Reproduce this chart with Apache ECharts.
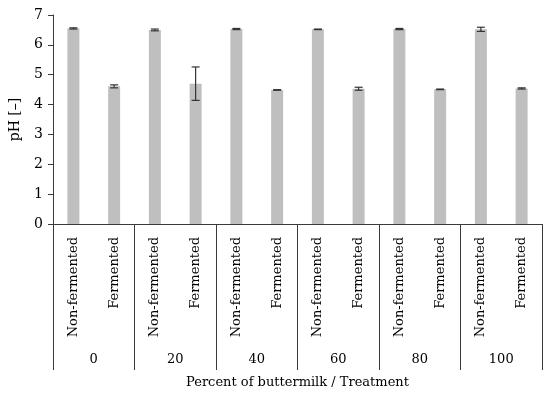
<!DOCTYPE html>
<html><head><meta charset="utf-8">
<script src="https://cdn.jsdelivr.net/npm/echarts@6/dist/echarts.min.js"></script>
<style>html,body{margin:0;padding:0;background:#fff}#c{width:550px;height:396px}</style>
</head><body><div id="c"></div>
<script>
const treatments = ['Non-fermented','Fermented','Non-fermented','Fermented','Non-fermented','Fermented','Non-fermented','Fermented','Non-fermented','Fermented','Non-fermented','Fermented'];
const groups = ['0','20','40','60','80','100'];
const phValues = [6.55, 4.61, 6.50, 4.70, 6.53, 4.49, 6.52, 4.53, 6.53, 4.51, 6.52, 4.54];
const phErrors = [0.02, 0.05, 0.03, 0.56, 0.02, 0.01, 0.01, 0.05, 0.02, 0.01, 0.07, 0.02];
const yTicks = [0,1,2,3,4,5,6,7];

const FONT = '"DejaVu Serif", "Liberation Serif", serif';
const LINE = '#3a3a3a';
const chart = echarts.init(document.getElementById('c'));
chart.setOption({
  animation: false,
  grid: {left: 49, right: 8, top: 15, bottom: 172},
  xAxis: [{
    type: 'category', data: treatments, position: 'bottom',
    axisLine: {show: false}, axisTick: {show: false},
    axisLabel: {rotate: 90, margin: 13, fontFamily: FONT, fontSize: 13, color: '#000', interval: 0}
  }, {
    type: 'category', data: groups, position: 'bottom',
    axisLine: {show: true, lineStyle: {color: LINE, width: 1}},
    axisTick: {show: true, length: 146, lineStyle: {color: LINE, width: 1}},
    axisLabel: {margin: 129, fontFamily: FONT, fontSize: 13, color: '#000', interval: 0},
    name: 'Percent of buttermilk / Treatment', nameLocation: 'middle', nameGap: 152,
    nameTextStyle: {fontFamily: FONT, fontSize: 13, color: '#000'}
  }],
  yAxis: {
    type: 'value', min: yTicks[0], max: yTicks[yTicks.length-1], interval: 1,
    axisLine: {show: true, lineStyle: {color: LINE}},
    axisTick: {show: true, length: 5, lineStyle: {color: LINE}},
    splitLine: {show: false},
    axisLabel: {fontFamily: FONT, fontSize: 14, color: '#000', margin: 10},
    name: 'pH [–]', nameLocation: 'middle', nameGap: 31, nameRotate: 90,
    nameTextStyle: {fontFamily: FONT, fontSize: 14, color: '#000'}
  },
  series: [{
    type: 'bar', data: phValues, barWidth: 12, xAxisIndex: 0,
    itemStyle: {color: '#bfbfbf'}
  }, {
    type: 'custom', xAxisIndex: 0, z: 5,
    data: phValues.map((v, i) => [i, v, phErrors[i]]),
    renderItem: function (params, api) {
      const x = api.value(0), v = api.value(1), e = api.value(2);
      const hi = api.coord([x, v + e]);
      const lo = api.coord([x, v - e]);
      const w = 4;
      const st = {stroke: '#333', lineWidth: 1.2};
      return {type: 'group', children: [
        {type: 'line', shape: {x1: hi[0], y1: hi[1], x2: lo[0], y2: lo[1]}, style: st},
        {type: 'line', shape: {x1: hi[0]-w, y1: hi[1], x2: hi[0]+w, y2: hi[1]}, style: st},
        {type: 'line', shape: {x1: lo[0]-w, y1: lo[1], x2: lo[0]+w, y2: lo[1]}, style: st}
      ]};
    }
  }]
});
</script></body></html>
